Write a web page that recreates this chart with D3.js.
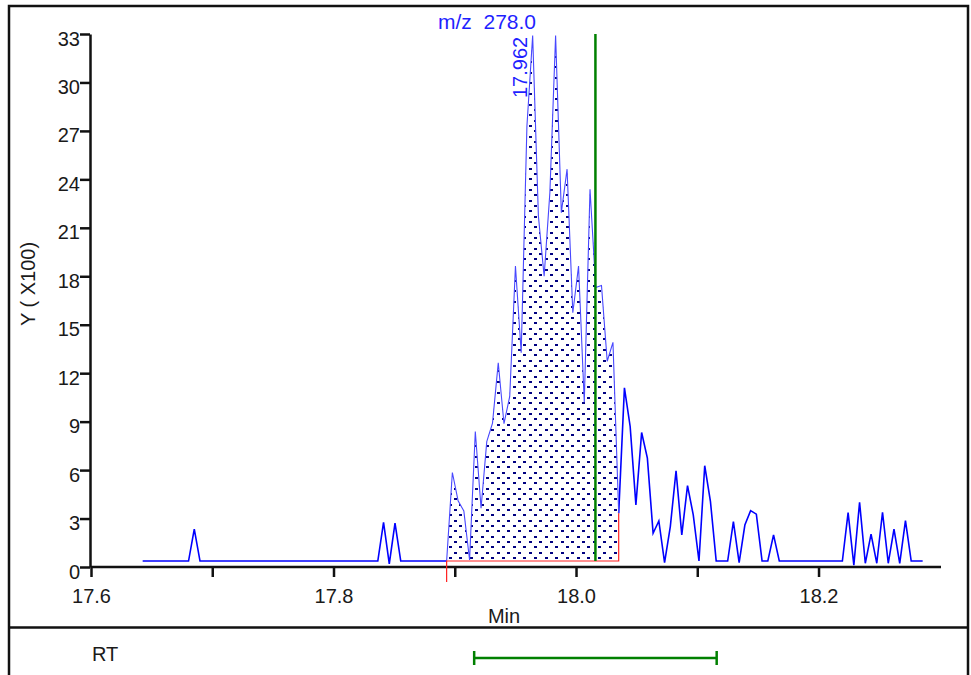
<!DOCTYPE html>
<html>
<head>
<meta charset="utf-8">
<script src="https://cdn.jsdelivr.net/npm/d3@7/dist/d3.min.js"></script>
<style>
  body { margin: 0; background: #fff; }
  svg { display: block; font-family: "Liberation Sans", Arial, sans-serif; }
  .tick text { font-size: 20px; fill: #1a1a1a; }
</style>
</head>
<body>
<script>
// scan grid of the extracted ion chromatogram
var scanStart = 17.6426;
var scanStep = 0.00473;

// intensities (x100), one per scan
var intensities = [
  0.37, 0.37, 0.37, 0.37, 0.37, 0.37, 0.37, 0.37, 0.37, 2.34,
  0.37, 0.37, 0.37, 0.37, 0.37, 0.37, 0.37, 0.37, 0.37, 0.37,
  0.37, 0.37, 0.37, 0.37, 0.37, 0.37, 0.37, 0.37, 0.37, 0.37,
  0.37, 0.37, 0.37, 0.37, 0.37, 0.37, 0.37, 0.37, 0.37, 0.37,
  0.37, 0.37, 2.77, 0.20, 2.71, 0.37, 0.37, 0.37, 0.37, 0.37,
  0.37, 0.37, 0.37, 0.37, 5.85, 4.10, 3.47, 0.43, 8.39, 3.64,
  7.77, 8.91, 12.65, 8.87, 10.56, 18.63, 13.26, 27.3, 32.9, 21.73,
  18.0, 23.18, 32.9, 21.94, 24.63, 15.74, 18.63, 10.2, 23.39, 17.3,
  17.43, 12.74, 13.91, 3.33, 11.09, 8.7, 3.85, 8.33, 6.74, 2.09,
  2.85, 0.27, 2.5, 5.96, 1.99, 5.04, 3.23, 0.37, 6.27, 4.05,
  0.37, 0.37, 0.37, 2.81, 0.27, 2.6, 3.49, 3.27, 0.37, 0.37,
  1.99, 0.37, 0.37, 0.37, 0.37, 0.37, 0.37, 0.37, 0.37, 0.37,
  0.37, 0.37, 0.37, 3.37, 0.12, 4.01, 0.23, 2.03, 0.23, 3.39,
  0.23, 2.34, 0.23, 2.87, 0.37, 0.37, 0.37
];

// integrated peak
var peakStartScan = 53;
var peakEndScan = 83;
var peakBase = 0.37;
var apexLabel = '17.962';
var ionLabel = 'm/z  278.0';

// expected retention time and window
var rtExpected = 18.016;
var rtWindow = 0.1;

var xTicks = [17.6, 17.7, 17.8, 17.9, 18.0, 18.1, 18.2];
var xLabelled = [17.6, 17.8, 18.0, 18.2];
var yTicks = [0, 3, 6, 9, 12, 15, 18, 21, 24, 27, 30, 33];
var xDomain = [17.6, 18.301];
var yDomain = [0, 33];

var width = 971;
var height = 675;

var points = intensities.map(function(v, i) {
  return { t: scanStart + i * scanStep, v: v, i: i };
});

var x = d3.scaleLinear().domain(xDomain).range([91, 941]);
var y = d3.scaleLinear().domain(yDomain).range([567, 34]);

var svg = d3.select('body').append('svg')
  .attr('width', width)
  .attr('height', height);

// frame
svg.append('path')
  .attr('d', 'M9,' + height + 'V6H968V' + height)
  .attr('fill', 'none')
  .attr('stroke', '#111')
  .attr('stroke-width', 2.5);
svg.append('line')
  .attr('x1', 9).attr('x2', 968)
  .attr('y1', 627.5).attr('y2', 627.5)
  .attr('stroke', '#111')
  .attr('stroke-width', 2.5);

// axes
var xAxis = d3.axisBottom(x)
  .tickValues(xTicks)
  .tickSize(10)
  .tickSizeOuter(0)
  .tickPadding(12)
  .tickFormat(function(d) {
    return xLabelled.some(function(l) { return Math.abs(l - d) < 1e-9; }) ? d3.format('.1f')(d) : '';
  });

var yAxis = d3.axisLeft(y)
  .tickValues(yTicks)
  .tickSize(10)
  .tickSizeOuter(0)
  .tickPadding(0)
  .tickFormat(d3.format('d'));

var gx = svg.append('g')
  .attr('transform', 'translate(0,' + y(0) + ')')
  .call(xAxis);
var gy = svg.append('g')
  .attr('transform', 'translate(' + (x(xDomain[0]) - 1) + ',0)')
  .call(yAxis);

gx.selectAll('path, line').attr('stroke', '#111').attr('stroke-width', 2.5);
gy.selectAll('path, line').attr('stroke', '#111').attr('stroke-width', 2.5);
gy.selectAll('text').attr('dy', '0.55em');
gx.select('.domain').attr('d', 'M' + x(xDomain[0]) + ',0H' + x(xDomain[1]));

svg.append('text')
  .attr('transform', 'translate(35,284) rotate(-90)')
  .attr('text-anchor', 'middle')
  .attr('font-size', 20)
  .attr('fill', '#1a1a1a')
  .text('Y ( X100)');

svg.append('text')
  .attr('x', 504)
  .attr('y', 623)
  .attr('text-anchor', 'middle')
  .attr('font-size', 20)
  .attr('fill', '#1a1a1a')
  .text('Min');

// integrated area, filled with a dot screen
var peakPoints = points.slice(peakStartScan, peakEndScan + 1);
var area = d3.area()
  .x(function(d) { return x(d.t); })
  .y0(y(peakBase))
  .y1(function(d) { return y(d.v); });

svg.append('clipPath')
  .attr('id', 'peak-clip')
  .append('path')
  .datum(peakPoints)
  .attr('d', area);

var xs = x(peakPoints[0].t);
var xe = x(peakPoints[peakPoints.length - 1].t);
var yb = y(peakBase);
var yTop = y(d3.max(peakPoints, function(d) { return d.v; }));

var dotStep = 16 / 3;
var dots = [];
for (var k = 0; yb - 4 - k * dotStep > yTop - 3; k++) {
  for (var cx = xs + 2 + (k % 2) * dotStep; cx < xe + 2; cx += 2 * dotStep) {
    dots.push([Math.round(cx), Math.round(yb - 4 - k * dotStep)]);
  }
}
svg.append('g')
  .attr('clip-path', 'url(#peak-clip)')
  .attr('shape-rendering', 'crispEdges')
  .selectAll('rect')
  .data(dots)
  .enter().append('rect')
    .attr('x', function(d) { return d[0]; })
    .attr('y', function(d) { return d[1]; })
    .attr('width', 3)
    .attr('height', 2)
    .attr('fill', '#000080');

var line = d3.line()
  .x(function(d) { return x(d.t); })
  .y(function(d) { return y(d.v); });

svg.append('path')
  .datum(points.slice(0, peakStartScan + 1))
  .attr('d', line)
  .attr('fill', 'none')
  .attr('stroke', '#0000ff')
  .attr('stroke-width', 1.6);

svg.append('path')
  .datum(points.slice(peakEndScan))
  .attr('d', line)
  .attr('fill', 'none')
  .attr('stroke', '#0000ff')
  .attr('stroke-width', 1.6);

svg.append('path')
  .datum(peakPoints)
  .attr('d', line)
  .attr('fill', 'none')
  .attr('stroke', '#4848ff')
  .attr('stroke-width', 1.1);

// peak baseline (red)
svg.append('path')
  .attr('d', 'M' + xs + ',' + (y(0) + 15) + 'V' + yb + 'H' + xe + 'V' + y(peakPoints[peakPoints.length - 1].v))
  .attr('fill', 'none')
  .attr('stroke', '#ff2020')
  .attr('stroke-width', 1.2);

// expected RT marker
svg.append('line')
  .attr('x1', x(rtExpected)).attr('x2', x(rtExpected))
  .attr('y1', y(yDomain[1])).attr('y2', yb)
  .attr('stroke', '#008000')
  .attr('stroke-width', 2.5);

// labels
var apex = d3.greatest(points, function(d) { return d.v; });
svg.append('text')
  .attr('transform', 'translate(' + (x(apex.t) - 6) + ',98) rotate(-90)')
  .attr('font-size', 20)
  .attr('fill', '#1f1fff')
  .text(apexLabel);

svg.append('text')
  .attr('x', 438)
  .attr('y', 29)
  .attr('font-size', 21)
  .attr('fill', '#1f1fff')
  .style('white-space', 'pre')
  .text(ionLabel);

// RT panel
svg.append('text')
  .attr('x', 92)
  .attr('y', 661)
  .attr('font-size', 20)
  .attr('fill', '#1a1a1a')
  .text('RT');

var rtY = 658;
var rtG = svg.append('g')
  .attr('stroke', '#008000')
  .attr('stroke-width', 2.5);
rtG.append('line')
  .attr('x1', x(rtExpected - rtWindow)).attr('x2', x(rtExpected + rtWindow))
  .attr('y1', rtY).attr('y2', rtY);
[rtExpected - rtWindow, rtExpected + rtWindow].forEach(function(t) {
  rtG.append('line')
    .attr('x1', x(t)).attr('x2', x(t))
    .attr('y1', rtY - 7).attr('y2', rtY + 7);
});
</script>
</body>
</html>
